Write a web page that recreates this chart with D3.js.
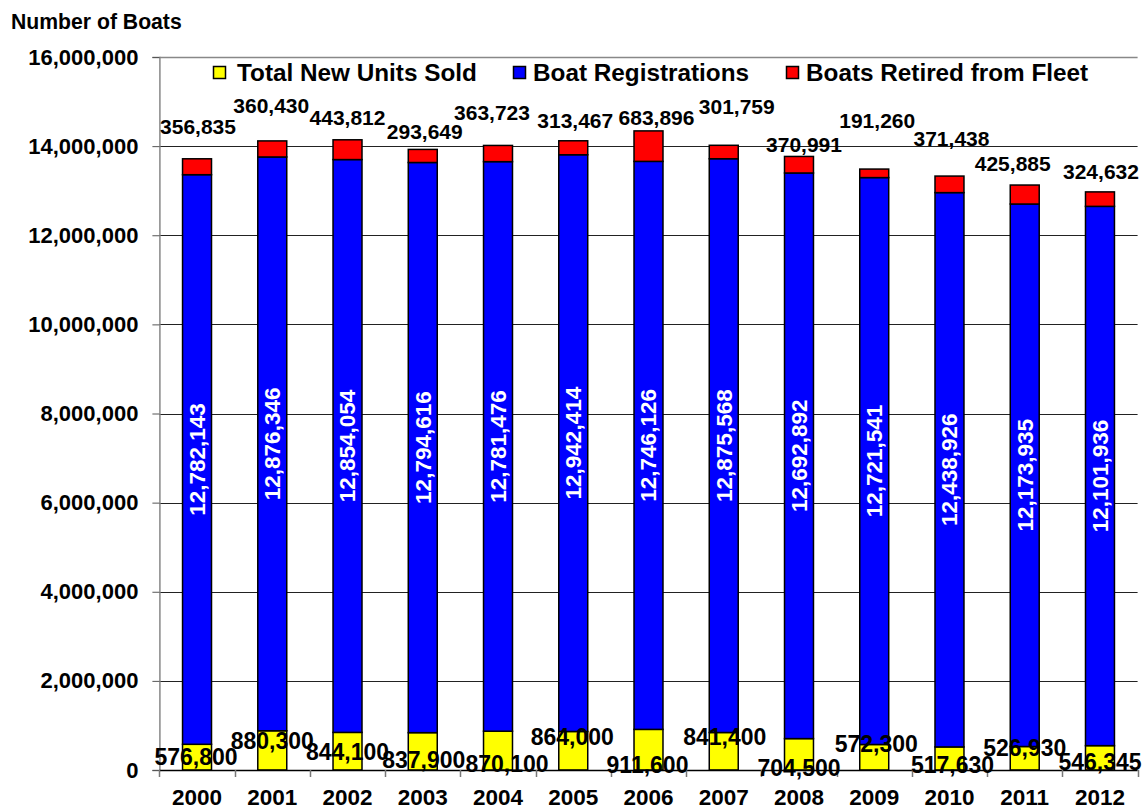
<!DOCTYPE html>
<html>
<head>
<meta charset="utf-8">
<script src="https://cdn.jsdelivr.net/npm/d3@7"></script>
<style>
  html, body { margin: 0; padding: 0; background: #fff; }
  svg { display: block; font-family: "Liberation Sans", Arial, sans-serif; font-weight: bold; }
</style>
</head>
<body>
<svg id="chart" width="1145" height="811"></svg>
<script>
// ---- data ----
const years = ["2000","2001","2002","2003","2004","2005","2006","2007","2008","2009","2010","2011","2012"];
const newUnitsSold = [576800, 880300, 844100, 837900, 870100, 864000, 911600, 841400, 704500, 572300, 517630, 526930, 546345];
const boatRegistrations = [12782143, 12876346, 12854054, 12794616, 12781476, 12942414, 12746126, 12875568, 12692892, 12721541, 12438926, 12173935, 12101936];
const boatsRetired = [356835, 360430, 443812, 293649, 363723, 313467, 683896, 301759, 370991, 191260, 371438, 425885, 324632];
const yTicks = [0, 2000000, 4000000, 6000000, 8000000, 10000000, 12000000, 14000000, 16000000];
const seriesNames = ["Total New Units Sold", "Boat Registrations", "Boats Retired from Fleet"];

// ---- label placement (manual layout, pixels) ----
const retiredLabelDx = [1, -1, 0, 2, -6, 2, 8, 13, 5, 3, 2, -12, 1];
const retiredLabelDy = [-32, -35, -22, -18, -33, -20, -13, -39, -12, -48, -37, -21, -20];
const newLabelDx = [-1, 0, 0, 1, 9, -1, -1, 1, 0, 2, 3, 0, 0];
const newLabelDy = [-13, -29, -18, -10, -6, -33, -5, -33, -2, -26, -5, -22, -8];

const colors = ["#ffff00", "#0000ff", "#ff0000"];
const fmt = d3.format(",");

const svg = d3.select("#chart");
const plotLeft = 159.4, plotRight = 1137.6, plotTop = 57, plotBottom = 770;

const x = d3.scaleBand().domain(years).range([plotLeft, plotRight]).paddingInner(0.615).paddingOuter(0.3075);
const y = d3.scaleLinear().domain([0, 16000000]).range([plotBottom, plotTop]);

// gridlines
svg.append("g").selectAll("line").data(yTicks.filter(t => t > 0 && t < 16000000)).join("line")
  .attr("x1", plotLeft).attr("x2", plotRight)
  .attr("y1", d => Math.round(y(d)) + 0.5).attr("y2", d => Math.round(y(d)) + 0.5)
  .attr("stroke", "#222").attr("stroke-width", 1);

// top border
svg.append("line").attr("x1", plotLeft).attr("x2", plotRight)
  .attr("y1", Math.round(y(16000000)) + 0.5).attr("y2", Math.round(y(16000000)) + 0.5)
  .attr("stroke", "#888").attr("stroke-width", 1.5);

// y axis
const yAxis = d3.axisLeft(y).tickValues(yTicks).tickFormat(fmt).tickSize(7).tickPadding(14);
const gy = svg.append("g").attr("transform", `translate(${plotLeft},0)`).call(yAxis);
gy.select(".domain").attr("stroke", "#888").attr("stroke-width", 1.5);
gy.selectAll(".tick line").attr("stroke", "#555");
gy.selectAll(".tick text").attr("font-size", 22).attr("font-weight", "bold")
  .attr("font-family", "Liberation Sans, Arial, sans-serif").attr("fill", "#000");

// stacked data
const rows = years.map((yr, i) => ({ year: yr, n: newUnitsSold[i], r: boatRegistrations[i], t: boatsRetired[i] }));
const stacked = d3.stack().keys(["n", "r", "t"])(rows);

svg.append("g").selectAll("g").data(stacked).join("g")
  .attr("fill", (d, i) => colors[i])
  .selectAll("rect").data(d => d).join("rect")
  .attr("x", d => x(d.data.year))
  .attr("width", x.bandwidth())
  .attr("y", d => y(d[1]))
  .attr("height", d => y(d[0]) - y(d[1]))
  .attr("stroke", "#000").attr("stroke-width", 1.5);

// x axis baseline
svg.append("line").attr("x1", plotLeft).attr("x2", plotRight)
  .attr("y1", plotBottom + 0.5).attr("y2", plotBottom + 0.5).attr("stroke", "#000").attr("stroke-width", 1.5);

// x boundary ticks (category edges)
const edges = years.map(yr => x(yr) + x.bandwidth() / 2 - x.step() / 2);
edges.push(plotRight);
svg.append("g").selectAll("line").data(edges).join("line")
  .attr("x1", d => Math.round(d) + 0.5).attr("x2", d => Math.round(d) + 0.5)
  .attr("y1", plotBottom).attr("y2", plotBottom + 7)
  .attr("stroke", "#777").attr("stroke-width", 1.5);

// x labels
const xAxis = d3.axisBottom(x).tickSize(0).tickPadding(19);
const gx = svg.append("g").attr("transform", `translate(0,${plotBottom})`).call(xAxis);
gx.select(".domain").remove();
gx.selectAll(".tick text").attr("font-size", 22.5).attr("font-weight", "bold")
  .attr("font-family", "Liberation Sans, Arial, sans-serif").attr("fill", "#000");

// retired labels (above bars)
svg.append("g").selectAll("text").data(stacked[2]).join("text")
  .attr("x", (d, i) => x(d.data.year) + x.bandwidth() / 2 + retiredLabelDx[i])
  .attr("y", (d, i) => y(d[1]) + retiredLabelDy[i])
  .attr("dy", "0.35em")
  .attr("text-anchor", "middle").attr("font-size", 21).attr("fill", "#000")
  .text(d => fmt(d.data.t));

// registration labels (rotated, inside blue)
svg.append("g").selectAll("text").data(stacked[1]).join("text")
  .attr("transform", d => `translate(${x(d.data.year) + x.bandwidth() / 2},${(y(d[0]) + y(d[1])) / 2}) rotate(-90)`)
  .attr("dy", "0.35em")
  .attr("text-anchor", "middle").attr("font-size", 22.5).attr("fill", "#fff")
  .text(d => fmt(d.data.r));

// new units labels (near bottom)
svg.append("g").selectAll("text").data(stacked[0]).join("text")
  .attr("x", (d, i) => x(d.data.year) + x.bandwidth() / 2 + newLabelDx[i])
  .attr("y", (d, i) => y(0) + newLabelDy[i])
  .attr("dy", "0.35em")
  .attr("text-anchor", "middle").attr("font-size", 23).attr("fill", "#000")
  .text(d => fmt(d.data.n));

// y title
svg.append("text").attr("x", 11).attr("y", 29).attr("font-size", 21.2).attr("fill", "#000").text("Number of Boats");

// legend
const legendX = [213, 513, 786];
const lg = svg.append("g").selectAll("g").data(seriesNames).join("g")
  .attr("transform", (d, i) => `translate(${legendX[i]},66)`);
lg.append("rect").attr("x", 0.5).attr("y", 0.5).attr("width", 12).attr("height", 12)
  .attr("fill", (d, i) => colors[i]).attr("stroke", "#000").attr("stroke-width", 1.5);
lg.append("text").attr("x", (d, i) => i === 0 ? 24 : 20).attr("y", 6).attr("dy", "0.35em")
  .attr("font-size", 24.3).attr("fill", "#000").text(d => d);
</script>
</body>
</html>
